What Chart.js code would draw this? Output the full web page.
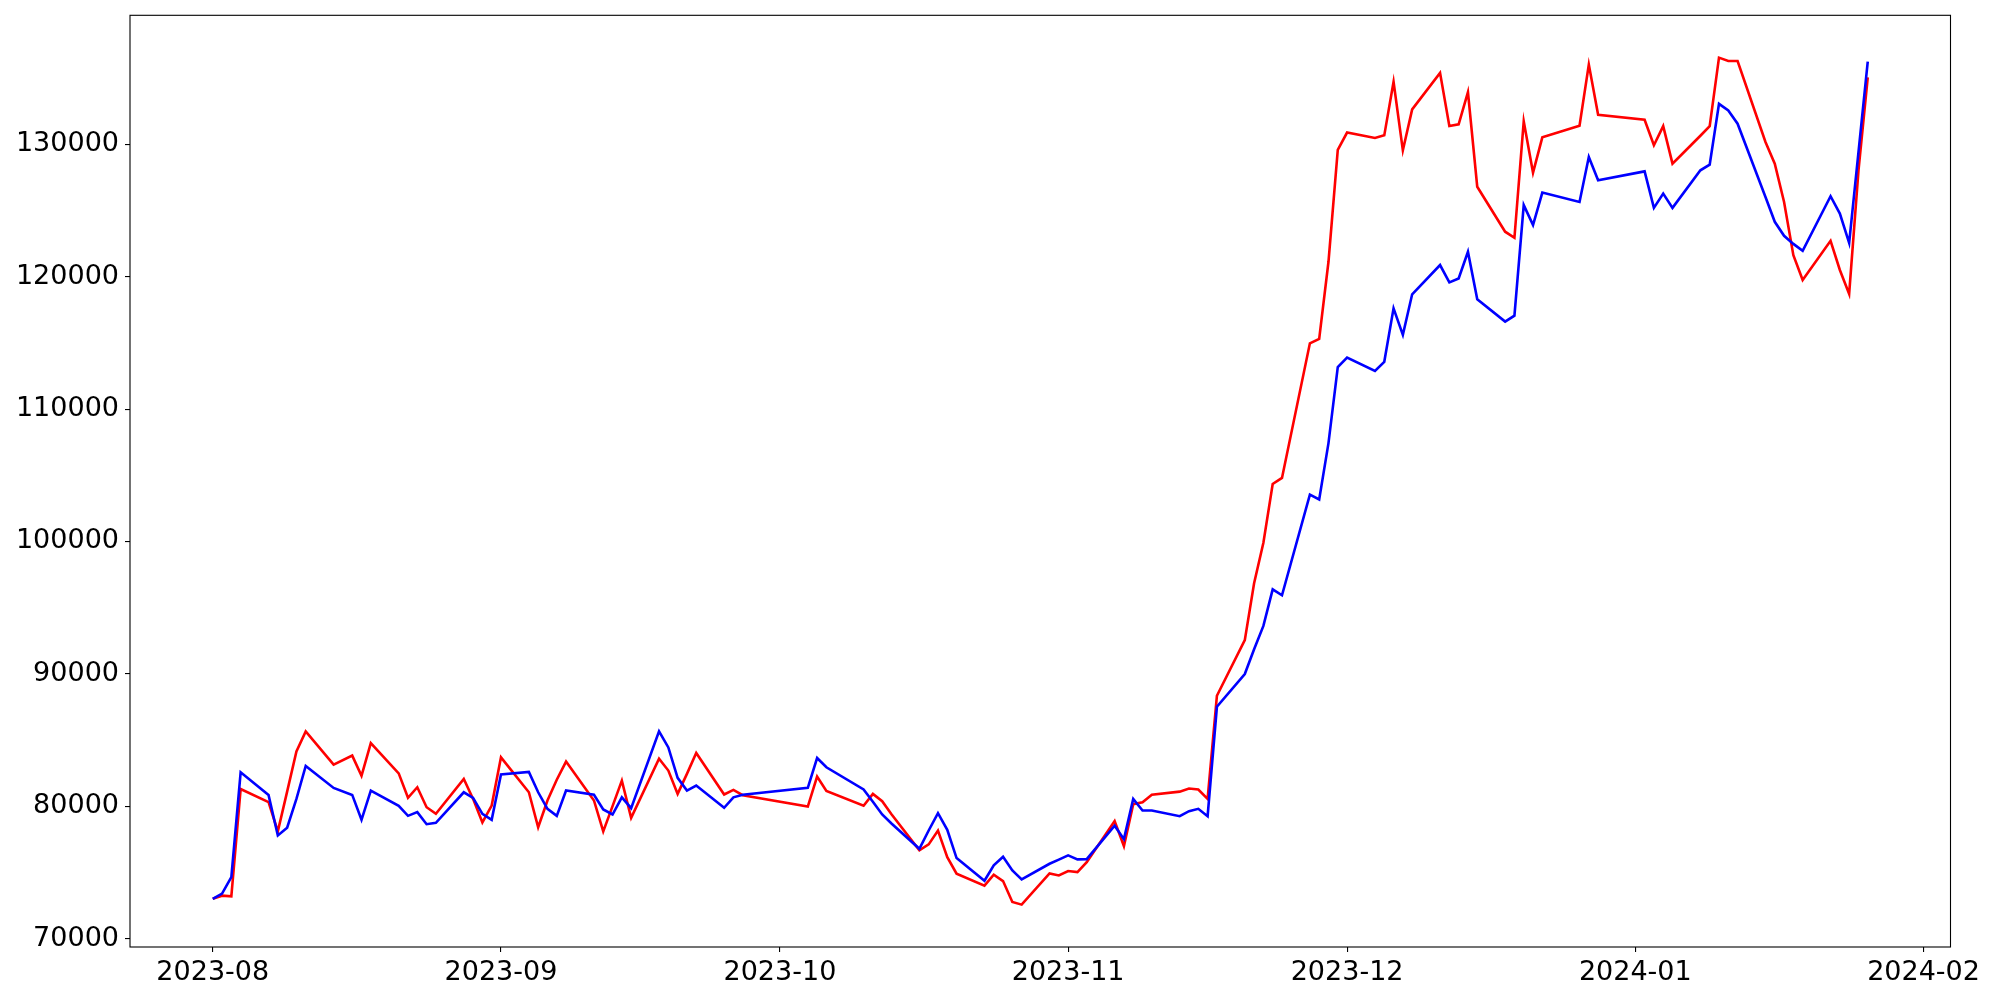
<!DOCTYPE html>
<html>
<head>
<meta charset="utf-8">
<script src="https://cdn.jsdelivr.net/npm/chart.js@4.4.0/dist/chart.umd.min.js"></script>
<style>
html,body{margin:0;padding:0;background:#ffffff;}
#wrap{width:2000px;height:1000px;}
</style>
</head>
<body>
<div id="wrap"><canvas id="c" width="2000" height="1000"></canvas></div>
<script>
const dates = [
'2023-08-01','2023-08-02','2023-08-03','2023-08-04','2023-08-07','2023-08-08','2023-08-09','2023-08-10','2023-08-11',
'2023-08-14','2023-08-16','2023-08-17','2023-08-18','2023-08-21','2023-08-22','2023-08-23','2023-08-24','2023-08-25',
'2023-08-28','2023-08-29','2023-08-30','2023-08-31','2023-09-01','2023-09-04','2023-09-05','2023-09-06','2023-09-07',
'2023-09-08','2023-09-11','2023-09-12','2023-09-13','2023-09-14','2023-09-15','2023-09-18','2023-09-19','2023-09-20',
'2023-09-21','2023-09-22','2023-09-25','2023-09-26','2023-09-27','2023-10-04','2023-10-05','2023-10-06','2023-10-10',
'2023-10-11','2023-10-12','2023-10-13','2023-10-16','2023-10-17','2023-10-18','2023-10-19','2023-10-20','2023-10-23',
'2023-10-24','2023-10-25','2023-10-26','2023-10-27','2023-10-30','2023-10-31','2023-11-01','2023-11-02','2023-11-03',
'2023-11-06','2023-11-07','2023-11-08','2023-11-09','2023-11-10','2023-11-13','2023-11-14','2023-11-15','2023-11-16',
'2023-11-17','2023-11-20','2023-11-21','2023-11-22','2023-11-23','2023-11-24','2023-11-27','2023-11-28','2023-11-29',
'2023-11-30','2023-12-01','2023-12-04','2023-12-05','2023-12-06','2023-12-07','2023-12-08','2023-12-11','2023-12-12',
'2023-12-13','2023-12-14','2023-12-15','2023-12-18','2023-12-19','2023-12-20','2023-12-21','2023-12-22','2023-12-26',
'2023-12-27','2023-12-28','2024-01-02','2024-01-03','2024-01-04','2024-01-05','2024-01-08','2024-01-09','2024-01-10',
'2024-01-11','2024-01-12','2024-01-15','2024-01-16','2024-01-17','2024-01-18','2024-01-19','2024-01-22','2024-01-23',
'2024-01-24','2024-01-25','2024-01-26'
];

const redValues = [
73000,73240,73190,81300,80300,78100,81100,84140,85650,
83140,83820,82290,84770,82480,80630,81430,79920,79420,
82060,80550,78770,80050,83690,81050,78410,80430,82000,
83370,80430,78090,80000,81930,79120,83590,82690,80930,
82440,84020,80880,81230,80830,79970,82240,81150,80030,
80930,80370,79390,76660,77110,78160,76150,74900,74000,
74820,74340,72760,72560,74920,74770,75100,75020,75770,
78870,76980,80150,80300,80860,81100,81330,81260,80550,
88340,92540,96840,99900,104340,104800,114970,115300,121130,
129590,130890,130480,130680,134730,129550,132640,135400,131380,
131510,133950,126800,123400,122940,131740,127860,130530,131400,
136030,132240,131860,129930,131380,128540,130650,131380,136550,
136300,136300,130180,128540,125650,121630,119750,122710,120510,
118700,128000,135060
];

const blueValues = [
73000,73390,74640,82560,80850,77790,78370,80550,83040,
81380,80850,78970,81180,80030,79270,79550,78640,78740,
81050,80630,79420,78970,82390,82590,81050,79800,79270,
81180,80860,79750,79370,80670,79850,85650,84440,82140,
81180,81560,79880,80670,80860,81380,83640,82940,81260,
80330,79370,78690,76780,78160,79470,78210,76080,74370,
75530,76180,75150,74470,75650,75960,76280,75980,76000,
78520,77510,80550,79670,79670,79240,79620,79800,79240,
87510,89980,91860,93620,96380,95930,103540,103170,107430,
113180,113890,112890,113570,117610,115610,118670,120880,119570,
119870,121880,118290,116610,117060,125410,123900,126360,125650,
129040,127290,127960,125200,126280,125200,128040,128470,133060,
132560,131560,126020,124150,123090,122480,121960,126080,124770,
122560,129400,136250
];

const monthTicks = ['2023-08-01','2023-09-01','2023-10-01','2023-11-01','2023-12-01','2024-01-01','2024-02-01'];
const monthLabels = ['2023-08','2023-09','2023-10','2023-11','2023-12','2024-01','2024-02'];
const yTicks = [70000,80000,90000,100000,110000,120000,130000];

const DAY = 86400000;
function toDay(s){ return Date.UTC(+s.slice(0,4), +s.slice(5,7)-1, +s.slice(8,10)) / DAY; }

const xs = dates.map(toDay);
const redPts = xs.map((x,i)=>({x:x, y:redValues[i]}));
const bluePts = xs.map((x,i)=>({x:x, y:blueValues[i]}));
const monthDays = monthTicks.map(toDay);

const xMinD = Math.min(...xs), xMaxD = Math.max(...xs);
const xPad = (xMaxD - xMinD) * 0.05;
const allV = redValues.concat(blueValues);
const yMinD = Math.min(...allV), yMaxD = Math.max(...allV);
const yPad = (yMaxD - yMinD) * 0.05;

const FONT = {family:'"DejaVu Sans", sans-serif', size:27};

const frame = {
  id:'frame',
  afterDraw(chart){
    const a = chart.chartArea, ctx = chart.ctx;
    ctx.save();
    ctx.strokeStyle = '#000';
    ctx.lineWidth = 1.1;
    ctx.strokeRect(a.left, a.top, a.right - a.left, a.bottom - a.top);
    ctx.restore();
  }
};

new Chart(document.getElementById('c'), {
  type:'line',
  data:{
    datasets:[
      {label:'red', data:redPts, borderColor:'#ff0000', borderWidth:2.6, pointRadius:0, tension:0, fill:false, order:2},
      {label:'blue', data:bluePts, borderColor:'#0000ff', borderWidth:2.6, pointRadius:0, tension:0, fill:false, order:1}
    ]
  },
  options:{
    responsive:false,
    animation:false,
    devicePixelRatio:1,
    layout:{padding:{left:0, right:49.5, top:15.3, bottom:0}},
    plugins:{legend:{display:false}, tooltip:{enabled:false}, title:{display:false}},
    scales:{
      x:{
        type:'linear',
        min:xMinD - xPad,
        max:xMaxD + xPad,
        afterBuildTicks(scale){ scale.ticks = monthDays.map(v=>({value:v})); },
        afterFit(scale){ scale.height = 53; scale.paddingLeft = 0; scale.paddingRight = 0; },
        ticks:{
          autoSkip:false, maxRotation:0, minRotation:0, padding:5, color:'#000', font:FONT,
          callback(v){ const i = monthDays.indexOf(v); return i >= 0 ? monthLabels[i] : ''; }
        },
        grid:{display:true, drawOnChartArea:false, drawTicks:true, tickLength:5, color:'#000', lineWidth:1.1},
        border:{display:false}
      },
      y:{
        type:'linear',
        min:yMinD - yPad,
        max:yMaxD + yPad,
        afterBuildTicks(scale){ scale.ticks = yTicks.map(v=>({value:v})); },
        afterFit(scale){ scale.width = 130; scale.paddingTop = 0; scale.paddingBottom = 0; },
        ticks:{
          padding:6, color:'#000', font:FONT,
          callback(v){ return String(v); }
        },
        grid:{display:true, drawOnChartArea:false, drawTicks:true, tickLength:5, color:'#000', lineWidth:1.1},
        border:{display:false}
      }
    }
  },
  plugins:[frame]
});
</script>
</body>
</html>
